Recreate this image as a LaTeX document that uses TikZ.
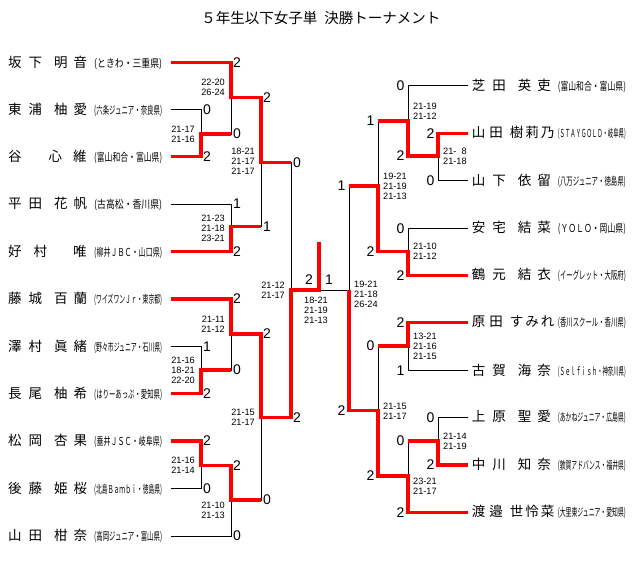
\documentclass[tikz,border=0pt]{standalone}
\usepackage{fontspec}
\usepackage{graphicx}
\setmainfont{Noto Sans CJK JP}
\newfontfamily\numfont{Liberation Sans}
\newcommand\pfour[4]{#1\hspace{7pt}#2\hspace{12pt}#3\hspace{6pt}#4}
\newcommand\pfive[5]{#1\hspace{4pt}#2\hspace{7pt}#3\hspace{2pt}#4\hspace{2pt}#5}
\newcommand\club[1]{\resizebox{68pt}{\height}{\fontsize{11}{11}\selectfont(#1)}}
\newcommand\pname[2]{\makebox[86pt][l]{#1}\club{#2}}

\begin{document}
\begin{tikzpicture}[
    x=1pt, y=-1pt,
    player/.style={anchor=west, inner sep=0pt, font=\fontsize{13.5}{13.5}\selectfont},
    won/.style={draw=red, line width=3.3pt},
    lost/.style={draw=black, line width=0.9pt},
    sc/.style={inner sep=0pt, font=\numfont\fontsize{14}{14}\selectfont},
    games/.style={inner sep=0pt, font=\numfont\fontsize{9.2}{10}\selectfont},
    gl/.style={games, anchor=east, align=right},
    gr/.style={games, anchor=west, align=left}
]
\useasboundingbox (0,0) rectangle (640,585);

% Titel
\node (title) at (320.8,18.3) {\fontsize{14.5}{14.5}\selectfont ５年生以下女子単\hspace{7pt}決勝トーナメント};

% Spieler links
\node[player] (pL1) at (8,62.7) {\pname{\pfour{坂}{下}{明}{音}}{ときわ・三重県}};
\node[player] (pL2) at (8,109.5) {\pname{\pfour{東}{浦}{柚}{愛}}{六条ジュニア・奈良県}};
\node[player] (pL3) at (8,156.7) {\pname{谷\hspace{27pt}心\hspace{11pt}維}{富山和合・富山県}};
\node[player] (pL4) at (8,204) {\pname{\pfour{平}{田}{花}{帆}}{古高松・香川県}};
\node[player] (pL5) at (8,251.7) {\pname{好\hspace{12pt}村\hspace{26pt}唯}{柳井ＪＢＣ・山口県}};
\node[player] (pL6) at (8,299) {\pname{\pfour{藤}{城}{百}{蘭}}{ワイズワンＪｒ・東京都}};
\node[player] (pL7) at (8,346.7) {\pname{\pfour{澤}{村}{眞}{緒}}{野々市ジュニア・石川県}};
\node[player] (pL8) at (8,393.5) {\pname{\pfour{長}{尾}{柚}{希}}{はりーあっぷ・愛知県}};
\node[player] (pL9) at (8,441) {\pname{\pfour{松}{岡}{杏}{果}}{垂井ＪＳＣ・岐阜県}};
\node[player] (pL10) at (8,488.7) {\pname{\pfour{後}{藤}{姫}{桜}}{北島Ｂａｍｂｉ・徳島県}};
\node[player] (pL11) at (8,536) {\pname{\pfour{山}{田}{柑}{奈}}{高岡ジュニア・富山県}};

% Spieler rechts
\node[player] (pR1) at (471.7,85.7) {\pname{\pfour{芝}{田}{英}{吏}}{富山和合・富山県}};
\node[player] (pR2) at (471.7,133.3) {\pname{\pfive{山}{田}{樹}{莉}{乃}}{ＳＴＡＹＧＯＬＤ・岐阜県}};
\node[player] (pR3) at (471.7,180.7) {\pname{\pfour{山}{下}{依}{留}}{八万ジュニア・徳島県}};
\node[player] (pR4) at (471.7,228.3) {\pname{\pfour{安}{宅}{結}{菜}}{ＹＯＬＯ・岡山県}};
\node[player] (pR5) at (471.7,275.3) {\pname{\pfour{鶴}{元}{結}{衣}}{イーグレット・大阪府}};
\node[player] (pR6) at (471.7,322.7) {\pname{\pfive{原}{田}{す}{み}{れ}}{香川スクール・香川県}};
\node[player] (pR7) at (471.7,370.7) {\pname{\pfour{古}{賀}{海}{奈}}{Ｓｅｌｆｉｓｈ・神奈川県}};
\node[player] (pR8) at (471.7,417.3) {\pname{\pfour{上}{原}{聖}{愛}}{あかねジュニア・広島県}};
\node[player] (pR9) at (471.7,465) {\pname{\pfour{中}{川}{知}{奈}}{敦賀アドバンス・福井県}};
\node[player] (pR10) at (471.7,512.3) {\pname{\pfive{渡}{邉}{世}{怜}{菜}}{大里東ジュニア・愛知県}};

% Linienanfaenge
\coordinate (L1) at (171,62.7);  \coordinate (L2) at (171,109.5); \coordinate (L3) at (171,156.7);
\coordinate (L4) at (171,204);   \coordinate (L5) at (171,251.7); \coordinate (L6) at (171,299);
\coordinate (L7) at (171,346.7); \coordinate (L8) at (171,393.5); \coordinate (L9) at (171,441);
\coordinate (L10) at (171,488.7); \coordinate (L11) at (171,536);
\coordinate (R1) at (468,85.7);  \coordinate (R2) at (468,133.3); \coordinate (R3) at (468,180.7);
\coordinate (R4) at (468,228.3); \coordinate (R5) at (468,275.3); \coordinate (R6) at (468,322.7);
\coordinate (R7) at (468,370.7); \coordinate (R8) at (468,417.3); \coordinate (R9) at (468,465);
\coordinate (R10) at (468,512.3);

% Spielpunkte
\coordinate (mA) at (201,134);   \coordinate (mB) at (231,97.3);  \coordinate (mC) at (231,226.7);
\coordinate (mD) at (261,162.3); \coordinate (mE) at (201,370);   \coordinate (mF) at (231,334);
\coordinate (mG) at (201,465.3); \coordinate (mH) at (231,500);   \coordinate (mI) at (261,417.3);
\coordinate (mJ) at (291,290);
\coordinate (nA) at (438,156);   \coordinate (nB) at (408,121);   \coordinate (nC) at (408,251.7);
\coordinate (nD) at (378,186);   \coordinate (nE) at (408,346);   \coordinate (nF) at (438,441);
\coordinate (nG) at (408,476);   \coordinate (nH) at (378,410.7); \coordinate (nJ) at (349,290);
\coordinate (fin) at (319,290);  \coordinate (top) at (319,241.7);

% Turnierbaum
\draw[lost] (L1) -| (mB) (L2) -| (mA) (L3) -| (mA) (mA) -| (mB)
            (L4) -| (mC) (L5) -| (mC) (mB) -| (mD) (mC) -| (mD)
            (L6) -| (mF) (L7) -| (mE) (L8) -| (mE) (mE) -| (mF)
            (L9) -| (mG) (L10) -| (mG) (mG) -| (mH) (L11) -| (mH)
            (mF) -| (mI) (mH) -| (mI) (mD) -| (mJ) (mI) -| (mJ) (mJ) -- (fin);
\draw[lost] (R1) -| (nB) (R2) -| (nA) (R3) -| (nA) (nA) -| (nB)
            (R4) -| (nC) (R5) -| (nC) (nB) -| (nD) (nC) -| (nD)
            (R6) -| (nE) (R7) -| (nE) (R8) -| (nF) (R9) -| (nF)
            (nF) -| (nG) (R10) -| (nG) (nE) -| (nH) (nG) -| (nH)
            (nD) -| (nJ) (nH) -| (nJ) (nJ) -- (fin);

% Gewinnerwege
\draw[won] (L1) -| (mB) -| (mD) -- (mD -| mJ);
\draw[won] (L3) -| (mA) -- (mA -| mB);
\draw[won] (L5) -| (mC) -- (mC -| mD);
\draw[won] (L8) -| (mE) -- (mE -| mF);
\draw[won] (L9) -| (mG) -| (mH) -- (mH -| mI);
\draw[won] (L6) -| (mF) -| (mI) -| (mJ) -| (top);
\draw[won] (R2) -| (nA) -| (nB) -- (nB -| nD);
\draw[won] (R5) -| (nC) -| (nD) -- (nD -| nJ);
\draw[won] (R6) -| (nE) -- (nE -| nH);
\draw[won] (R9) -| (nF) -- (nF -| nG);
\draw[won] (R10) -| (nG) -| (nH) -| (nJ);

% Ergebnisse links
\node[sc, anchor=west] (sL1) at (233,62.7) {2};   \node[sc, anchor=west] (sA) at (233,134) {0};
\node[sc, anchor=west] (sL2) at (203,109.5) {0};  \node[sc, anchor=west] (sL3) at (203,156.7) {2};
\node[sc, anchor=west] (sB) at (263,97.3) {2};    \node[sc, anchor=west] (sC) at (263,226.7) {1};
\node[sc, anchor=west] (sL4) at (233,204) {1};    \node[sc, anchor=west] (sL5) at (233,251.7) {2};
\node[sc, anchor=west] (sD) at (293,162.3) {0};   \node[sc, anchor=west] (sI) at (293,417.3) {2};
\node[sc, anchor=west] (sL6) at (233,299) {2};    \node[sc, anchor=west] (sE) at (233,370) {0};
\node[sc, anchor=west] (sL7) at (203,346.7) {1};  \node[sc, anchor=west] (sL8) at (203,393.5) {2};
\node[sc, anchor=west] (sF) at (263,334) {2};     \node[sc, anchor=west] (sH) at (263,500) {0};
\node[sc, anchor=west] (sL9) at (203,441) {2};    \node[sc, anchor=west] (sL10) at (203,488.7) {0};
\node[sc, anchor=west] (sG) at (233,465.3) {2};   \node[sc, anchor=west] (sL11) at (233,536) {0};
\node[sc] (sJ) at (309,280) {2};                  \node[sc] (tJ) at (329,280) {1};

% Ergebnisse rechts
\node[sc, anchor=east] (sR1) at (404.5,85.7) {0}; \node[sc, anchor=east] (tA) at (404.5,156) {2};
\node[sc, anchor=east] (sR2) at (434.5,133.3) {2}; \node[sc, anchor=east] (sR3) at (434.5,180.7) {0};
\node[sc, anchor=east] (tB) at (374.5,121) {1};   \node[sc, anchor=east] (tC) at (374.5,251.7) {2};
\node[sc, anchor=east] (sR4) at (404.5,228.3) {0}; \node[sc, anchor=east] (sR5) at (404.5,275.3) {2};
\node[sc, anchor=east] (tD) at (345.5,186) {1};   \node[sc, anchor=east] (tH) at (345.5,410.7) {2};
\node[sc, anchor=east] (sR6) at (404.5,322.7) {2}; \node[sc, anchor=east] (sR7) at (404.5,370.7) {1};
\node[sc, anchor=east] (tE) at (374.5,346) {0};   \node[sc, anchor=east] (tG) at (374.5,476) {2};
\node[sc, anchor=east] (sR8) at (434.5,417.3) {0}; \node[sc, anchor=east] (sR9) at (434.5,465) {2};
\node[sc, anchor=east] (tF) at (404.5,441) {0};   \node[sc, anchor=east] (sR10) at (404.5,512.3) {2};

% Satzergebnisse
\node[gl] (gA) at (195,134) {21-17\\21-16};
\node[gl] (gB) at (225,87.7) {22-20\\26-24};
\node[gl] (gC) at (225,228) {21-23\\21-18\\23-21};
\node[gl] (gD) at (255,161.7) {18-21\\21-17\\21-17};
\node[gl] (gE) at (195,370.7) {21-16\\18-21\\22-20};
\node[gl] (gF) at (225,324.3) {21-11\\21-12};
\node[gl] (gG) at (195,465.5) {21-16\\21-14};
\node[gl] (gH) at (225,510.7) {21-10\\21-13};
\node[gl] (gI) at (255,417.5) {21-15\\21-17};
\node[gl] (gJ) at (285,290) {21-12\\21-17};
\node[games, align=center] (gK) at (316,310.5) {18-21\\21-19\\21-13};
\node[gr] (hA) at (443,156) {21-\phantom{1}8\\21-18};
\node[gr] (hB) at (413,111.3) {21-19\\21-12};
\node[gr] (hC) at (413,251) {21-10\\21-12};
\node[gr] (hD) at (383,186.4) {19-21\\21-19\\21-13};
\node[gr] (hE) at (413,346.3) {13-21\\21-16\\21-15};
\node[gr] (hF) at (443,441.5) {21-14\\21-19};
\node[gr] (hG) at (413,486) {23-21\\21-17};
\node[gr] (hH) at (383,411) {21-15\\21-17};
\node[gr] (hJ) at (354,294) {19-21\\21-18\\26-24};
\end{tikzpicture}
\end{document}
